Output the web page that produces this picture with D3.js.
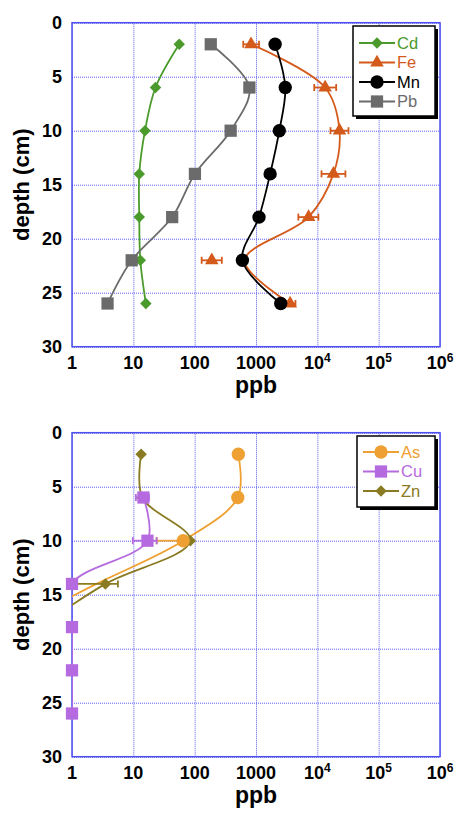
<!DOCTYPE html>
<html>
<head>
<meta charset="utf-8">
<script src="https://cdn.jsdelivr.net/npm/d3@7"></script>
<style>
  body { margin: 0; background: #fff; }
  text { font-family: "Liberation Sans", Arial, Helvetica, sans-serif; }
</style>
</head>
<body>
<div id="chartContainer"></div>
<script>
// sampling depths (cm)
const depths = [2, 6, 10, 14, 18, 22, 26];

// top panel (ppb)
const cd = [56, 23, 15.5, 12.5, 12.5, 13, 16];
const fe = [830, 13400, 23000, 18300, 7200, 190, 3600];
const feLow = [620, 8900, 16400, 11700, 4900, 130, 2950];
const feHigh = [1120, 20300, 32200, 28700, 10400, 277, 4400];
const feCurve = [830, 13400, 23000, 18300, 7200, 650, 3600];
const mn = [2050, 3000, 2400, 1700, 1120, 600, 2530];
const pb = [183, 780, 386, 101, 43, 9.4, 3.8];

// bottom panel (ppb), null = not shown
const as = [515, 505, 65, null, null, null, null];
const asCurve = [515, 505, 65, 2.5, 0.1, null, null];
const asLow = [null, null, 24, null, null, null, null];
const asHigh = [null, null, 75, null, null, null, null];
const cu = [null, 14.6, 17, 1, 1, 1, 1];
const cuLow = [null, 11, 9.8, null, null, null, null];
const cuHigh = [null, 18, 24, null, null, null, null];
const zn = [13.4, 14, 85, 3.5, 0.3, null, null];
const znLow = [null, null, null, 1.2, null, null, null];
const znHigh = [null, null, null, 5.6, null, null, null];

const depthTicks = [0, 5, 10, 15, 20, 25, 30];
const ppbTicks = [1, 10, 100, 1000, 1e4, 1e5, 1e6];
const ppbLabels = ["1", "10", "100", "1000", "10|4", "10|5", "10|6"];

function pageLoaded() {
  const w = 455;
  const h = 814;
  const left = 72;
  const right = 440;
  const plotH = 324;

  const svg = d3
    .select("#chartContainer")
    .append("svg")
    .attr("width", w)
    .attr("height", h);

  const xScale = d3.scaleLog().domain([1, 1e6]).range([left, right]);

  function zip(vals) {
    return depths.map((d, i) => ({ depth: d, v: vals[i] }));
  }

  function errs(lo, hi) {
    return depths
      .map((d, i) => ({ depth: d, lo: lo[i], hi: hi[i] }))
      .filter((d) => d.lo != null);
  }

  function drawPanel(top, series, legend, clipId) {
    const yScale = d3.scaleLinear().domain([0, 30]).range([top, top + plotH]);
    const g = svg.append("g");

    g.append("clipPath")
      .attr("id", clipId)
      .append("rect")
      .attr("x", left)
      .attr("y", top)
      .attr("width", right - left)
      .attr("height", plotH);

    // grid
    g.append("g")
      .attr("transform", `translate(0,${top + plotH})`)
      .call(d3.axisBottom(xScale).tickValues(ppbTicks).tickSize(-plotH).tickFormat(""))
      .call((a) => a.select(".domain").remove())
      .selectAll("line")
      .attr("stroke", "#5c5cf2")
      .attr("stroke-dasharray", "1,1");

    g.append("g")
      .attr("transform", `translate(${left},0)`)
      .call(d3.axisLeft(yScale).tickValues(depthTicks).tickSize(-(right - left)).tickFormat(""))
      .call((a) => a.select(".domain").remove())
      .selectAll("line")
      .attr("stroke", "#5c5cf2")
      .attr("stroke-dasharray", "1,1");

    g.append("rect")
      .attr("x", left)
      .attr("y", top)
      .attr("width", right - left)
      .attr("height", plotH)
      .attr("fill", "none")
      .attr("stroke", "#4f4ff0")
      .attr("stroke-width", 1.5);

    // tick labels
    g.selectAll(".ylab")
      .data(depthTicks)
      .enter()
      .append("text")
      .attr("x", 62)
      .attr("y", (d) => yScale(d))
      .attr("dy", "0.35em")
      .attr("text-anchor", "end")
      .attr("font-size", "18px")
      .attr("font-weight", "bold")
      .text((d) => d);

    const xl = g
      .selectAll(".xlab")
      .data(ppbTicks)
      .enter()
      .append("text")
      .attr("x", (d) => xScale(d))
      .attr("y", top + plotH + 22)
      .attr("text-anchor", "middle")
      .attr("font-size", "18px")
      .attr("font-weight", "bold");
    xl.each(function (d, i) {
      const parts = ppbLabels[i].split("|");
      const t = d3.select(this);
      t.append("tspan").text(parts[0]);
      if (parts[1]) {
        t.append("tspan").attr("dy", "-0.55em").attr("font-size", "12px").text(parts[1]);
      }
    });

    g.append("text")
      .attr("x", (left + right) / 2)
      .attr("y", top + plotH + 46)
      .attr("text-anchor", "middle")
      .attr("font-size", "23px")
      .attr("font-weight", "bold")
      .text("ppb");

    g.append("text")
      .attr("transform", `translate(29,${top + plotH / 2}) rotate(-90)`)
      .attr("text-anchor", "middle")
      .attr("font-size", "22px")
      .attr("font-weight", "bold")
      .text("depth (cm)");

    // lines
    const line = d3
      .line()
      .defined((d) => d.v != null)
      .x((d) => xScale(d.v))
      .y((d) => yScale(d.depth))
      .curve(d3.curveCatmullRom.alpha(0.5));

    const lines = g.append("g").attr("clip-path", `url(#${clipId})`);
    series.forEach((s) => {
      lines
        .append("path")
        .attr("d", line(zip(s.curve || s.values)))
        .attr("fill", "none")
        .attr("stroke", s.color)
        .attr("stroke-width", 1.8);
    });

    // error bars
    series.forEach((s) => {
      if (!s.low) return;
      const eb = g.append("g").attr("stroke", s.color).attr("stroke-width", 1.8);
      errs(s.low, s.high).forEach((d) => {
        const y = yScale(d.depth);
        eb.append("line").attr("x1", xScale(d.lo)).attr("x2", xScale(d.hi)).attr("y1", y).attr("y2", y);
        [d.lo, d.hi].forEach((v) => {
          eb.append("line").attr("x1", xScale(v)).attr("x2", xScale(v)).attr("y1", y - 3.5).attr("y2", y + 3.5);
        });
      });
    });

    // markers
    series
      .slice()
      .sort((a, b) => a.z - b.z)
      .forEach((s) => {
        g.append("g")
          .selectAll("path")
          .data(zip(s.values).filter((d) => d.v != null && d.v >= 1))
          .enter()
          .append("path")
          .attr("d", markerPath(s.shape))
          .attr("transform", (d) =>
            `translate(${xScale(d.v)},${yScale(d.depth)})` + (s.shape == "diamond" ? " rotate(45)" : "")
          )
          .attr("fill", s.color);
      });

    // legend
    const lg = g.append("g");
    lg.append("rect")
      .attr("x", legend.x + 3)
      .attr("y", legend.y + 3)
      .attr("width", legend.w)
      .attr("height", legend.h)
      .attr("fill", "#000");
    lg.append("rect")
      .attr("x", legend.x)
      .attr("y", legend.y)
      .attr("width", legend.w)
      .attr("height", legend.h)
      .attr("fill", "#fff")
      .attr("stroke", "#000")
      .attr("stroke-width", 1.5);
    series.forEach((s, i) => {
      const y = legend.y + legend.first + i * legend.step;
      lg.append("line")
        .attr("x1", legend.x + 6)
        .attr("x2", legend.x + 42)
        .attr("y1", y)
        .attr("y2", y)
        .attr("stroke", s.color)
        .attr("stroke-width", 1.8);
      lg.append("path")
        .attr("d", markerPath(s.shape))
        .attr("transform", `translate(${legend.x + 24},${y})` + (s.shape == "diamond" ? " rotate(45)" : ""))
        .attr("fill", s.color);
      lg.append("text")
        .attr("x", legend.x + 44)
        .attr("y", y)
        .attr("dy", "0.35em")
        .attr("font-size", "16.5px")
        .attr("fill", s.color)
        .text(s.name);
    });
  }

  function markerPath(shape) {
    if (shape == "circle") return d3.symbol(d3.symbolCircle, 140)();
    if (shape == "square") return d3.symbol(d3.symbolSquare, 150)();
    if (shape == "triangle") return d3.symbol(d3.symbolTriangle, 80)();
    return d3.symbol(d3.symbolSquare, 66)();
  }

  drawPanel(
    22.7,
    [
      { name: "Cd", values: cd, color: "#4b9a2c", shape: "diamond", z: 0 },
      { name: "Fe", values: fe, curve: feCurve, low: feLow, high: feHigh, color: "#d45a1c", shape: "triangle", z: 1 },
      { name: "Mn", values: mn, color: "#000000", shape: "circle", z: 2 },
      { name: "Pb", values: pb, color: "#6b6b6b", shape: "square", z: 3 },
    ],
    { x: 353, y: 26, w: 82, h: 90, first: 17, step: 19.5 },
    "clipTop"
  );

  drawPanel(
    432.7,
    [
      { name: "As", values: as, curve: asCurve, low: asLow, high: asHigh, color: "#efa032", shape: "circle", z: 1 },
      { name: "Cu", values: cu, low: cuLow, high: cuHigh, color: "#b56ae0", shape: "square", z: 2 },
      { name: "Zn", values: zn, low: znLow, high: znHigh, color: "#8a7b22", shape: "diamond", z: 0 },
    ],
    { x: 357, y: 436, w: 78, h: 71, first: 16, step: 19.5 },
    "clipBottom"
  );
}

window.addEventListener("load", pageLoaded);
</script>
</body>
</html>
